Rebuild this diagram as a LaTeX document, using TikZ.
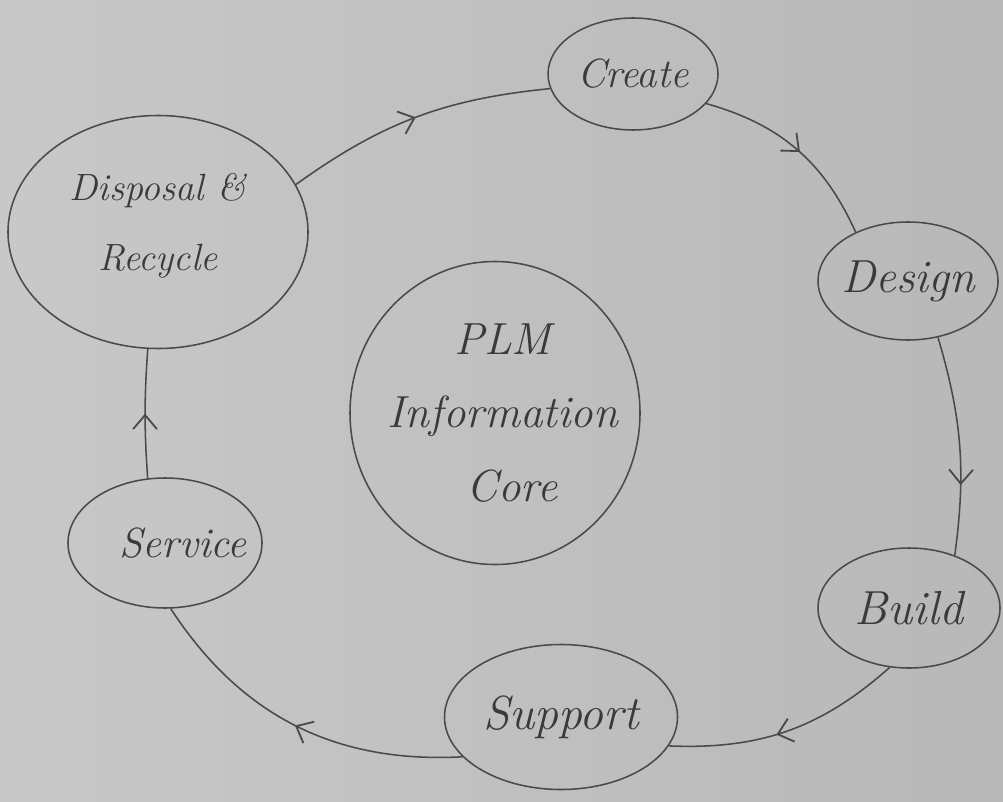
\documentclass[tikz,border=0pt]{standalone}
\usetikzlibrary{shapes.geometric,arrows.meta,decorations.markings}
\definecolor{paper}{HTML}{C8C8C8}
\definecolor{paperdark}{HTML}{B8B8B8}
\definecolor{pencil}{HTML}{4A4A4A}
\definecolor{ink}{HTML}{3A3A3A}
\newcommand{\fsz}[2]{\fontsize{#1}{#2}\selectfont\itshape}
\begin{document}
\begin{tikzpicture}[x=0.025cm,y=-0.025cm,
  stage/.style={ellipse,draw=pencil,line width=1.1pt,inner sep=0pt},
  every label/.style={text=ink,align=center,inner sep=0pt},
  flow/.style={draw=pencil,line width=1.1pt,
    postaction={decorate},
    decoration={markings,mark=at position #1 with {\arrow[pencil,line width=1.3pt]{Straight Barb[length=10pt,width=17pt]}}}},
  flow/.default=0.5]
\shade[left color=paper,right color=paperdark] (0,0) rectangle (1003,801);
\useasboundingbox (0,0) rectangle (1003,801);

\node[stage,minimum width=170*0.025cm,minimum height=112*0.025cm,
  label={[font=\fsz{29}{29}]center:Create}] (create) at (633,74) {};
\node[stage,minimum width=180*0.025cm,minimum height=118*0.025cm,
  label={[font=\fsz{33}{33}]center:Design}] (design) at (908,281) {};
\node[stage,minimum width=182*0.025cm,minimum height=120*0.025cm,
  label={[font=\fsz{34}{34}]center:Build}] (build) at (909,608) {};
\node[stage,minimum width=233*0.025cm,minimum height=145*0.025cm,
  label={[font=\fsz{34}{34}]center:Support}] (support) at (561,717) {};
\node[stage,minimum width=194*0.025cm,minimum height=130*0.025cm,
  label={[font=\fsz{30}{30},xshift=0.45cm]center:Service}] (service) at (165,543) {};
\node[stage,minimum width=300*0.025cm,minimum height=233*0.025cm,
  label={[font=\fsz{27}{50},yshift=0.15cm]center:Disposal \&\\Recycle}] (disposal) at (158,232) {};
\node[stage,minimum width=290*0.025cm,minimum height=303*0.025cm,
  label={[font=\fsz{32}{52},xshift=0.2cm]center:PLM\\Information\\\hspace*{0.4em}Core}] (core) at (495,413) {};

\draw[flow=0.5] (disposal.19) to[bend left=15] (create.190);
\draw[flow=0.52] (create.-22) to[bend left=25] (design.137);
\draw[flow=0.68] (design.-62) to[bend left=12] (build.49);
\draw[flow=0.55] (build.-108) to[bend left=22] (support.-15);
\draw[flow=0.5] (support.202) to[bend left=30] (service.-85);
\draw[flow=0.5] (service.105) to[bend left=4] (disposal.-95);
\end{tikzpicture}
\end{document}
